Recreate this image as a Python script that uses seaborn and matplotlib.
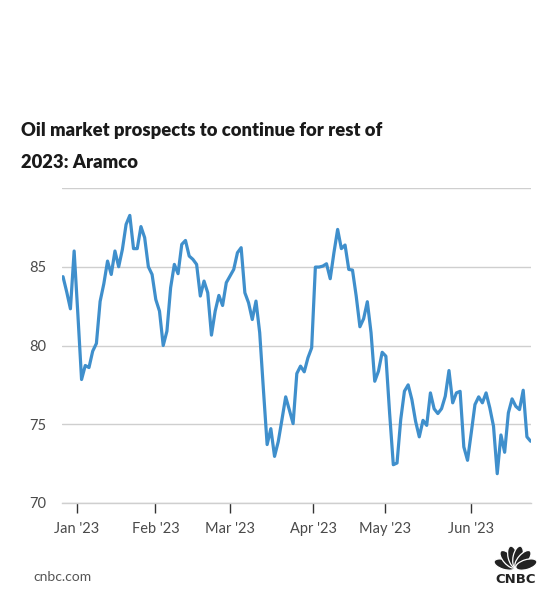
import numpy as np
import pandas as pd
import matplotlib
matplotlib.use("Agg")
import matplotlib.pyplot as plt
import seaborn as sns
from matplotlib.patches import Ellipse

# daily closing price, trading days from late Dec 2022 to late Jun 2023
prices = [
    84.37, 83.4, 82.33, 86.0, 82.0, 77.84, 78.73, 78.6, 79.64, 80.13,
    82.8, 83.92, 85.36, 84.51, 86.0, 85.0, 86.1, 87.69, 88.26, 86.15,
    86.15, 87.55, 86.85, 85.0, 84.51, 82.92, 82.18, 80.0, 80.91, 83.67,
    85.15, 84.56, 86.42, 86.67, 85.68, 85.47, 85.15, 83.14, 84.09, 83.35,
    80.66, 82.18, 83.18, 82.54, 83.99, 84.41, 84.83, 85.89, 86.21, 83.35,
    82.71, 81.65, 82.82, 80.81,
    77.2, 73.71, 74.72, 72.96, 73.9, 75.3, 76.74, 75.9, 75.04, 78.22,
    78.69, 78.33, 79.22, 79.85, 84.98, 84.98, 85.04, 85.19, 84.24, 85.89,
    87.37, 86.15, 86.38, 84.83, 84.79, 83.14, 81.19, 81.7, 82.78, 80.81,
    77.73, 78.37, 79.57, 79.32, 75.72, 72.43, 72.54, 75.3, 77.1, 77.5,
    76.57, 75.19, 74.2, 75.25, 74.93, 76.99, 75.98, 75.68, 75.99, 76.78,
    78.41, 76.36, 76.99, 77.09, 73.56, 72.71, 74.45, 76.25, 76.74, 76.36,
    76.99, 76.04, 74.87, 71.86, 74.32, 73.22, 75.72, 76.61, 76.14, 75.93,
    77.16, 74.2, 73.92,
]
month_labels = ["Jan '23", "Feb '23", "Mar '23", "Apr '23", "May '23", "Jun '23"]
month_ticks = [3.7, 24.9, 45.1, 67.4, 86.8, 110.0]
y_ticks = [70, 75, 80, 85, 90]
y_labels = ["70", "75", "80", "85", ""]

df = pd.DataFrame({"day": np.arange(len(prices)), "price": prices})

sns.set_theme(style="white")
plt.rcParams["font.family"] = ["Lato", "DejaVu Sans"]

W, H = 554, 600
fig = plt.figure(figsize=(W / 100, H / 100), dpi=100)
fig.patch.set_facecolor("white")

def px(x, y):
    return x / W, 1 - y / H

ax = fig.add_axes([62 / W, 1 - 503 / H, (531 - 62) / W, (503 - 188) / H])
sns.lineplot(data=df, x="day", y="price", ax=ax, color="#3f8fcc", linewidth=2.3)

ax.set_xlim(-0.27, 126.1)
ax.set_ylim(70, 90)
ax.set_yticks(y_ticks)
ax.set_yticklabels(y_labels)
ax.set_xticks(month_ticks)
ax.set_xticklabels(month_labels)
ax.set_xlabel("")
ax.set_ylabel("")
ax.grid(axis="y", color="#cfcfcf", linewidth=1)
ax.grid(axis="x", visible=False)
for s in ["top", "right", "left"]:
    ax.spines[s].set_visible(False)
ax.spines["bottom"].set_color("#cfcfcf")
ax.spines["bottom"].set_linewidth(1)
ax.tick_params(axis="y", length=0, pad=11, labelsize=10.5, labelcolor="#4a4a4a")
ax.tick_params(axis="x", length=7, width=1, color="#333333", pad=7,
               labelsize=10.5, labelcolor="#4a4a4a", bottom=True)

# title
fig.text(*px(21, 131), "Oil market prospects to continue for rest of",
         fontsize=13.2, fontweight="heavy", color="#1a1a1a", va="center", ha="left")
fig.text(*px(21, 162), "2023: Aramco",
         fontsize=13.2, fontweight="heavy", color="#1a1a1a", va="center", ha="left")

# footer
fig.text(*px(33, 577), "cnbc.com", fontsize=10, color="#555555", va="center", ha="left")

# peacock logo
lax = fig.add_axes([493 / W, 1 - 586 / H, 45 / W, 40 / H])
lax.set_xlim(-1.15, 1.15)
lax.set_ylim(-0.95, 1.1)
lax.axis("off")
for ang in [163, 131, 103, 77, 49, 17]:
    r = np.deg2rad(ang)
    lax.add_patch(Ellipse((0.58 * np.cos(r), 0.58 * np.sin(r) - 0.02), 1.12, 0.5,
                          angle=ang, facecolor="#222222", edgecolor="white", linewidth=0.9))
lax.text(0, -0.62, "CNBC", ha="center", va="center", fontsize=9.5,
         fontweight="heavy", color="#222222", family=["DejaVu Sans"])

fig.savefig("out.png", dpi=100, facecolor="white")
